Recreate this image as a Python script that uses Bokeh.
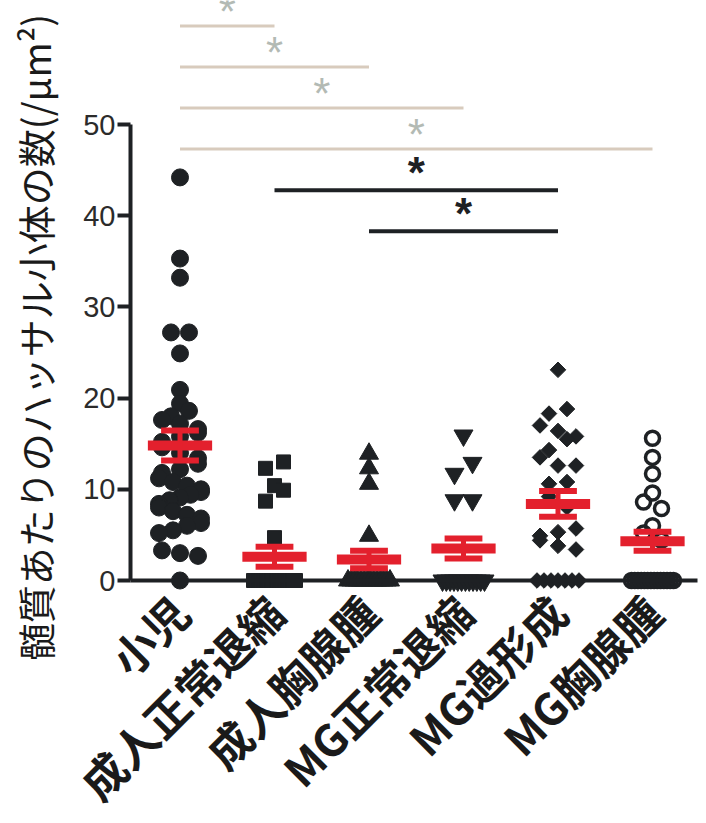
import numpy as np
from bokeh.plotting import figure
from bokeh.models import FixedTicker, ColumnDataSource
from bokeh.embed import file_html
from bokeh.resources import INLINE
from bokeh.core.properties import value

# ---------------- data ----------------
categories = ["小児", "成人正常退縮", "成人胸腺腫", "MG正常退縮", "MG過形成", "MG胸腺腫"]

g_child = [44.2, 35.3, 33.2, 27.2, 27.2, 24.9, 20.9, 19.4, 18.6, 18.0, 17.6, 17.2,
           16.6, 16.2, 15.8, 15.2, 14.6, 14.0, 13.4, 12.8, 12.2, 11.8, 11.2, 10.8,
           10.4, 10.0, 9.7, 9.4, 9.1, 8.8, 8.4, 8.0, 7.6, 7.2, 6.8, 6.3, 6.0, 5.5,
           5.2, 3.3, 3.0, 2.7, 0.0]
g_adult_inv = [13.0, 12.3, 10.4, 9.9, 8.7, 4.7] + [0.0] * 17
g_adult_thy = [13.9, 12.3, 10.6, 4.9] + [0.0] * 14
g_mg_inv = [15.9, 12.9, 11.7, 8.8, 8.8] + [0.0] * 12
g_mg_hyp = [23.1, 18.8, 18.3, 17.0, 16.4, 15.8, 15.5, 14.3, 13.5, 12.6, 12.6, 10.8,
            10.6, 9.2, 8.0, 5.7, 5.3, 4.9, 4.4, 3.8, 3.4] + [0.0] * 7
g_mg_thy = [15.6, 13.5, 11.7, 9.6, 8.6, 7.9, 6.0, 5.2, 4.4] + [0.0] * 14

means = [14.8, 2.6, 2.3, 3.5, 8.4, 4.3]
sems = [1.65, 1.1, 0.95, 1.1, 1.4, 1.05]

# significance comparisons (group numbers), from lowest bracket to highest
comparisons = [(3, 5), (2, 5), (1, 6), (1, 4), (1, 3), (1, 2)]
comparison_marks = ["*", "*", "*", "*", "*", "*"]

y_ticks = [0, 10, 20, 30, 40, 50]
y_title = "髄質あたりのハッサル小体の数(/μm²)"

# ---------------- layout ----------------
W, H = 706, 823
PX_X = 94.5                    # px per category
PX_Y = 9.12                    # px per y unit
AXIS_X_PX, RIGHT_PX, ZERO_PX = 130, 697, 580
XA = 1 - (179.5) / PX_X        # x value at the left canvas edge
XB = XA + W / PX_X
YT = ZERO_PX / PX_Y            # y value at the top canvas edge
YB = YT - H / PX_Y
X_AXIS_START = XA + AXIS_X_PX / PX_X
X_AXIS_END = XA + RIGHT_PX / PX_X

INK = "#1e2124"
RED = "#e3202d"
TAN = "#d8cbbd"
GREY_STAR = "#b3bab4"

p = figure(width=W, height=H, x_range=(XA, XB), y_range=(YB, YT),
           min_border=0, output_backend="svg", toolbar_location=None, title=None)
p.outline_line_color = None
p.grid.visible = False
p.background_fill_color = "white"
p.border_fill_color = "white"

# y axis (fixed at the left edge of the data area)
yax = p.yaxis[0]
yax.fixed_location = X_AXIS_START
yax.ticker = FixedTicker(ticks=y_ticks)
yax.bounds = (0, 50)
yax.axis_line_width = 4
yax.axis_line_color = INK
yax.major_tick_line_width = 4
yax.major_tick_line_color = INK
yax.major_tick_out = 13
yax.major_tick_in = 0
yax.minor_tick_out = 0
yax.minor_tick_in = 0
yax.major_label_text_font = "Liberation Sans"
yax.major_label_text_font_size = "29px"
yax.major_label_text_color = "#2b2b2b"
yax.major_label_standoff = 2

# x axis at zero with rotated category labels
xax = p.xaxis[0]
xax.fixed_location = 0
xax.bounds = (X_AXIS_START, X_AXIS_END)
xax.ticker = FixedTicker(ticks=list(range(1, len(categories) + 1)))
xax.major_label_overrides = {i + 1: c for i, c in enumerate(categories)}
xax.axis_line_width = 4
xax.axis_line_color = INK
xax.major_tick_out = 0
xax.major_tick_in = 0
xax.minor_tick_out = 0
xax.minor_tick_in = 0
xax.major_label_orientation = np.pi / 4
xax.major_label_standoff = 23
xax.major_label_text_font = "Noto Sans CJK JP"
xax.major_label_text_font_size = "44px"
xax.major_label_text_font_style = "bold"
xax.major_label_text_color = "#1a1a1a"


def row_offsets(vals, spacing_px=18.0, max_half_px=21.0, bin_px=12.0):
    vals = np.asarray(vals, float)
    order = np.argsort(vals, kind="stable")
    sv = vals[order]
    offs = np.zeros(len(vals))
    n = len(vals)
    i = 0
    r = 0
    while i < n:
        j = i
        while j + 1 < n and (sv[j + 1] - sv[i]) * PX_Y < bin_px:
            j += 1
        k = j - i + 1
        if k > 1:
            sp = min(spacing_px, 2 * max_half_px / (k - 1))
            pos = [(m - (k - 1) / 2) * sp for m in range(k)]
            if r % 2:
                pos = pos[::-1]
            for m in range(k):
                offs[order[i + m]] = pos[m] / PX_X
        i = j + 1
        r += 1
    return offs


groups = [g_child, g_adult_inv, g_adult_thy, g_mg_inv, g_mg_hyp, g_mg_thy]
styles = [
    dict(marker="circle", size=17, fill_color=INK, line_color=INK),
    dict(marker="square", size=14, fill_color=INK, line_color=INK),
    dict(marker="triangle", size=19, fill_color=INK, line_color=INK),
    dict(marker="inverted_triangle", size=19, fill_color=INK, line_color=INK),
    dict(marker="square", size=11, angle=np.pi / 4, fill_color=INK, line_color=INK),
    dict(marker="circle", size=14, fill_alpha=0, line_color=INK, line_width=3.5),
]
for gi, (vals, st) in enumerate(zip(groups, styles), start=1):
    xs = gi + row_offsets(vals)
    src = ColumnDataSource(dict(x=xs, y=np.asarray(vals, float)))
    p.scatter("x", "y", source=src, **st)

# mean +/- SEM in red
idx = np.arange(1, len(categories) + 1, dtype=float)
m = np.asarray(means)
s = np.asarray(sems)
p.segment(x0=idx - 0.34, x1=idx + 0.34, y0=m, y1=m, line_color=RED, line_width=10)
p.segment(x0=idx, x1=idx, y0=m - s, y1=m + s, line_color=RED, line_width=5)
p.segment(x0=np.r_[idx, idx] - 0.2, x1=np.r_[idx, idx] + 0.2,
          y0=np.r_[m + s, m - s], y1=np.r_[m + s, m - s], line_color=RED, line_width=6)

# significance brackets
BASE, STEP = 38.3, 4.5
for i, ((a, b), mark) in enumerate(zip(comparisons, comparison_marks)):
    ly = BASE + STEP * i
    dark = i < 2
    p.segment(x0=[a], x1=[b], y0=[ly], y1=[ly],
              line_color=INK if dark else TAN, line_width=4 if dark else 3)
    p.text(x=[(a + b) / 2], y=[ly + (1.9 if dark else 1.6)], text=[mark],
           text_font=value("Liberation Sans"), text_font_size="44px",
           text_font_style="bold" if dark else "normal",
           text_color=INK if dark else GREY_STAR,
           text_align="center", text_baseline="alphabetic")

# y axis title
p.text(x=[XA + 34 / PX_X], y=[(ZERO_PX - 337) / PX_Y], text=[y_title],
       angle=np.pi / 2, text_align="center", text_baseline="middle",
       text_font=value("Noto Sans CJK JP"), text_font_size="38px",
       text_color="#1a1a1a")

open("out.html", "w").write(file_html(p, INLINE))
